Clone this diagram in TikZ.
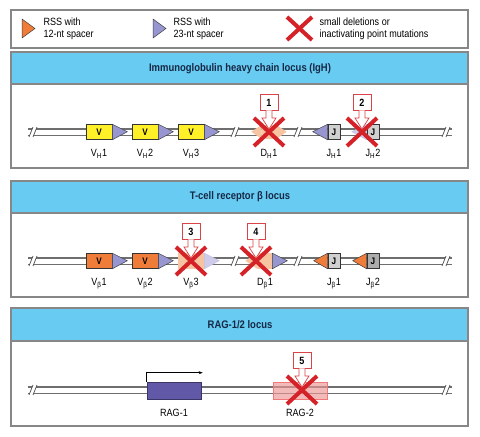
\documentclass[tikz,border=0pt]{standalone}
\usepackage{fontspec}
\setmainfont{Liberation Sans}[FakeStretch=0.86]
\usepackage{tikz}
\usetikzlibrary{positioning,shapes.misc,arrows.meta}

\definecolor{hdrblue}{RGB}{104,204,242}
\definecolor{hdrtext}{RGB}{22,40,70}
\definecolor{framegray}{RGB}{135,135,135}
\definecolor{dnagray}{RGB}{110,110,110}
\definecolor{rssorange}{RGB}{240,124,58}
\definecolor{rsspurple}{RGB}{152,150,208}
\definecolor{vyellow}{RGB}{255,240,40}
\definecolor{paleorange}{RGB}{246,196,160}
\definecolor{palepurple}{RGB}{206,204,234}
\definecolor{jlight}{RGB}{208,208,208}
\definecolor{jdark}{RGB}{172,172,172}
\definecolor{ragpurple}{RGB}{98,88,168}
\definecolor{ragpink}{RGB}{238,150,150}
\definecolor{xred}{RGB}{212,34,40}

% double DNA strand: x1, x2, y
\newcommand{\dnaline}[3]{%
  \draw[dnagray, line width=7.4pt] (#1,#3) -- (#2,#3);
  \draw[white, line width=5pt] (#1,#3) -- (#2,#3);}
% break mark on the strand: x, y
\newcommand{\dnabreak}[2]{%
  \fill[white] (#1-5,#2+5) -- (#1-1,#2-5) -- (#1+3,#2-5) -- (#1-1,#2+5) -- cycle;
  \draw[black!70, line width=0.7pt] (#1-5,#2+5) -- (#1-1,#2-5);
  \draw[black!70, line width=0.7pt] (#1-1,#2+5) -- (#1+3,#2-5);}
% numbered callout: name, number, target node
\newcommand{\calloutmark}[3]{%
  \node[callbox, above=21pt of #3.center] (#1) {#2};
  \draw[callarrow] ([xshift=-3pt,yshift=0.7pt]#1.south) -- ([xshift=-3pt,yshift=-7pt]#1.south)
    -- ([xshift=-7pt,yshift=-7pt]#1.south) -- ([yshift=3pt]#3.center)
    -- ([xshift=7pt,yshift=-7pt]#1.south) -- ([xshift=3pt,yshift=-7pt]#1.south)
    -- ([xshift=3pt,yshift=0.7pt]#1.south);}

\begin{document}
\begin{tikzpicture}[x=1pt, y=-1pt,
    frame/.style={draw=framegray, line width=1.3pt},
    header/.style={frame, fill=hdrblue},
    title/.style={font=\bfseries\fontsize{11}{12}\selectfont, text=hdrtext},
    legtext/.style={font=\fontsize{10.5}{11.5}\selectfont, align=left, anchor=west},
    gene/.style={draw=black!80, line width=0.6pt, minimum height=15pt, inner sep=0pt,
      font=\bfseries\fontsize{9.5}{10}\selectfont},
    vseg/.style={gene, minimum width=26pt},
    jseg/.style={gene, minimum width=12pt},
    faded/.style={draw=rssorange!45, fill=paleorange},
    rss/.style={draw=black!75, line width=0.5pt},
    lbl/.style={font=\fontsize{10.5}{11}\selectfont},
    xcross/.style={cross out, draw=xred, line width=4pt, minimum width=26pt,
      minimum height=24pt, inner sep=0pt},
    callbox/.style={draw=xred!85, fill=white, line width=0.7pt, minimum width=18pt,
      minimum height=16pt, inner sep=0pt, font=\bfseries\fontsize{10.5}{11}\selectfont},
    callarrow/.style={draw=xred!85, fill=white, line width=0.7pt}]
  \useasboundingbox (0,0) rectangle (480,437);

  % legend
  \draw[frame] (11,10) rectangle (468,48);
  \draw[rss, fill=rssorange] (22,19) -- (35,28.5) -- (22,38) -- cycle;
  \node[legtext] (leg12) at (40,29) {RSS with\\12-nt spacer};
  \draw[rss, fill=rsspurple] (153,19) -- (166,28.5) -- (153,38) -- cycle;
  \node[legtext] (leg23) at (170,29) {RSS with\\23-nt spacer};
  \node[xcross, minimum width=21pt, minimum height=19pt] (legx) at (299.5,28.5) {};
  \node[legtext] (legmut) at (316,29) {small deletions or\\inactivating point mutations};

  % IgH locus
  \draw[frame, fill=white] (11,52) rectangle (468,168);
  \draw[header] (11,52) rectangle (468,84);
  \node[title] (igh) at (240,69) {Immunoglobulin heavy chain locus (IgH)};
  \dnaline{28}{452}{132}
  \dnabreak{34}{132} \dnabreak{236}{132} \dnabreak{299}{132} \dnabreak{447}{132}
  \node[vseg, fill=vyellow] (vh1) at (99,132) {V};
  \node[vseg, fill=vyellow] (vh2) at (145,132) {V};
  \node[vseg, fill=vyellow] (vh3) at (191,132) {V};
  \foreach \n in {vh1,vh2,vh3}
    \draw[rss, fill=rsspurple] (\n.north east) -- ++(15,7.5) -- (\n.south east) -- cycle;
  \node[gene, faded, minimum width=14pt, minimum height=13pt] (dh1) at (269,132) {};
  \draw[faded] (dh1.north west) -- ++(-10,6.5) -- (dh1.south west) -- cycle;
  \draw[faded] (dh1.north east) -- ++(10,6.5) -- (dh1.south east) -- cycle;
  \node[jseg, fill=jlight] (jh1) at (334,132) {J};
  \draw[rss, fill=rsspurple] (jh1.north west) -- ++(-15,7.5) -- (jh1.south west) -- cycle;
  \node[jseg, fill=jlight] (jh2) at (373,132) {J};
  \draw[draw=rsspurple!60, fill=palepurple] (jh2.north west) -- ++(-15,7.5) -- (jh2.south west) -- cycle;
  \node[lbl, below=6pt of vh1] (lvh1) {V\textsubscript{H}1};
  \node[lbl, below=6pt of vh2] (lvh2) {V\textsubscript{H}2};
  \node[lbl, below=6pt of vh3] (lvh3) {V\textsubscript{H}3};
  \node[lbl, below=7pt of dh1] (ldh1) {D\textsubscript{H}1};
  \node[lbl, below=6pt of jh1] (ljh1) {J\textsubscript{H}1};
  \node[lbl, below=6pt of jh2] (ljh2) {J\textsubscript{H}2};
  \node[xcross] (x1) at (269,132) {};
  \node[xcross] (x2) at (362,132) {};
  \calloutmark{c1}{1}{x1}
  \calloutmark{c2}{2}{x2}

  % TCR beta locus
  \draw[frame, fill=white] (11,181) rectangle (468,297);
  \draw[header] (11,181) rectangle (468,213);
  \node[title] (tcrb) at (240,197) {T-cell receptor β locus};
  \dnaline{28}{452}{261}
  \dnabreak{34}{261} \dnabreak{236}{261} \dnabreak{299}{261} \dnabreak{447}{261}
  \node[vseg, fill=rssorange] (vb1) at (99,261) {V};
  \node[vseg, fill=rssorange] (vb2) at (145,261) {V};
  \foreach \n in {vb1,vb2}
    \draw[rss, fill=rsspurple] (\n.north east) -- ++(15,7.5) -- (\n.south east) -- cycle;
  \node[vseg, faded] (vb3) at (191,261) {};
  \draw[draw=rsspurple!60, fill=palepurple] (vb3.north east) -- ++(15,7.5) -- (vb3.south east) -- cycle;
  \node[gene, faded, minimum width=14pt] (db1) at (265,261) {};
  \draw[faded] (db1.north west) -- ++(-12,7.5) -- (db1.south west) -- cycle;
  \draw[rss, fill=rsspurple] (db1.north east) -- ++(15,7.5) -- (db1.south east) -- cycle;
  \node[jseg, fill=jlight] (jb1) at (334,261) {J};
  \draw[rss, fill=rssorange] (jb1.north west) -- ++(-14,7.5) -- (jb1.south west) -- cycle;
  \node[jseg, fill=jdark] (jb2) at (373,261) {J};
  \draw[rss, fill=rssorange] (jb2.north west) -- ++(-14,7.5) -- (jb2.south west) -- cycle;
  \node[lbl, below=6pt of vb1] (lvb1) {V\textsubscript{β}1};
  \node[lbl, below=6pt of vb2] (lvb2) {V\textsubscript{β}2};
  \node[lbl, below=6pt of vb3] (lvb3) {V\textsubscript{β}3};
  \node[lbl, below=6pt of db1] (ldb1) {D\textsubscript{β}1};
  \node[lbl, below=6pt of jb1] (ljb1) {J\textsubscript{β}1};
  \node[lbl, below=6pt of jb2] (ljb2) {J\textsubscript{β}2};
  \node[xcross] (x3) at (191,261) {};
  \node[xcross] (x4) at (256,261) {};
  \calloutmark{c3}{3}{x3}
  \calloutmark{c4}{4}{x4}

  % RAG-1/2 locus
  \draw[frame, fill=white] (11,308) rectangle (468,426);
  \draw[header] (11,308) rectangle (468,341);
  \node[title] (rag) at (240,324.5) {RAG-1/2 locus};
  \dnaline{28}{452}{390}
  \dnabreak{34}{390} \dnabreak{447}{390}
  \node[gene, minimum width=54pt, minimum height=17pt, fill=ragpurple, draw=ragpurple!60!black] (rag1) at (174,390.5) {};
  \draw[black, line width=0.6pt, -{Stealth[length=4pt]}] (rag1.north west) -- ++(0,-9) -- ++(56,0);
  \node[gene, minimum width=54pt, minimum height=17pt, fill=ragpink, fill opacity=0.65, draw=ragpink!80!red] (rag2) at (300,390.5) {};
  \node[lbl, below=6pt of rag1] (lrag1) {RAG-1};
  \node[lbl, below=6pt of rag2] (lrag2) {RAG-2};
  \node[xcross] (x5) at (302,390) {};
  \calloutmark{c5}{5}{x5}
\end{tikzpicture}
\end{document}
